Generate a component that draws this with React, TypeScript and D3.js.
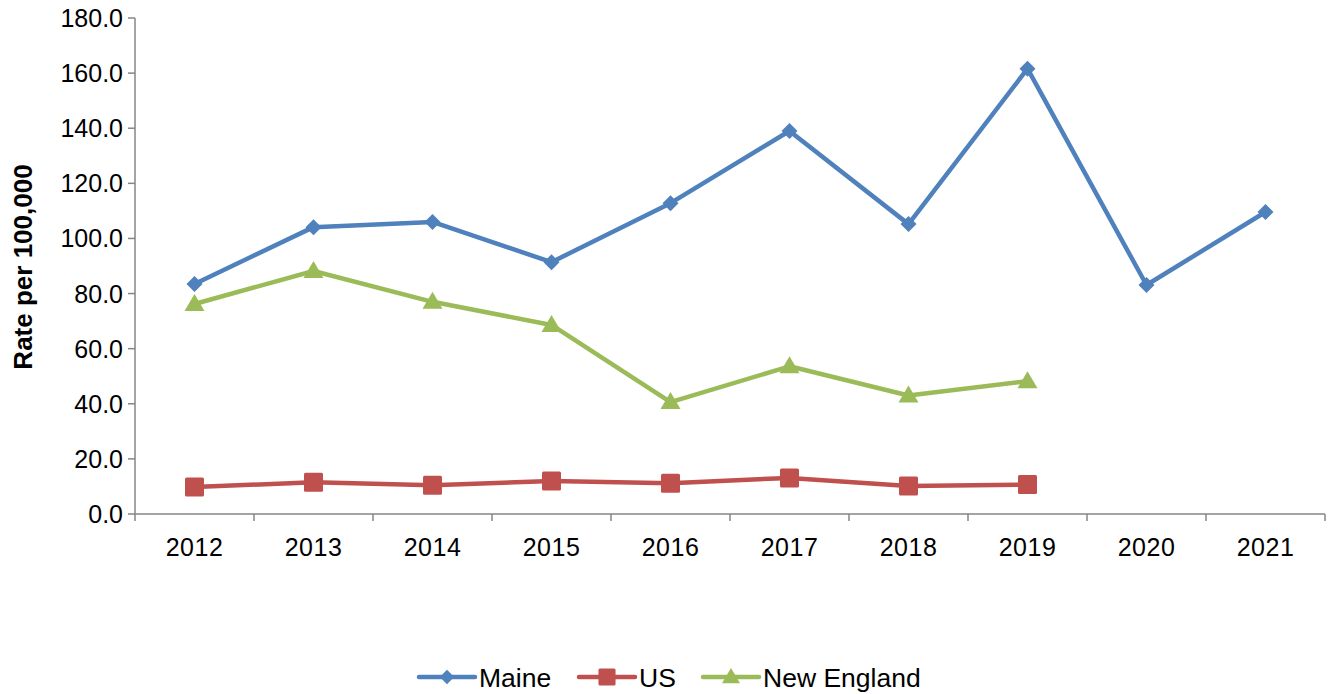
import React from 'react'
import * as d3 from 'd3'

const years = ['2012', '2013', '2014', '2015', '2016', '2017', '2018', '2019', '2020', '2021']
const maine = [83.5, 104.1, 106.0, 91.4, 112.8, 139.0, 105.2, 161.6, 83.1, 109.6]
const us = [9.8, 11.5, 10.4, 12.0, 11.2, 13.1, 10.2, 10.7, null, null]
const newEngland = [76.2, 88.2, 77.0, 68.6, 40.6, 53.6, 43.0, 48.2, null, null]
const yTicks = [0, 20, 40, 60, 80, 100, 120, 140, 160, 180]

const series = [
  { name: 'Maine', values: maine, color: '#4F81BD', marker: 'diamond' },
  { name: 'US', values: us, color: '#C0504D', marker: 'square' },
  { name: 'New England', values: newEngland, color: '#9BBB59', marker: 'triangle' }
]

const font = '"Liberation Sans", Arial, sans-serif'

function Marker({ type, x, y, color, k = 1 }: { type: string; x: number; y: number; color: string; k?: number }) {
  if (type === 'diamond') {
    const s = 8 * k
    return <path d={`M${x},${y - s}L${x + s},${y}L${x},${y + s}L${x - s},${y}Z`} fill={color} />
  }
  if (type === 'square') {
    const s = 9.5 * k
    return <rect x={x - s} y={y - s} width={2 * s} height={2 * s} rx={1.5} fill={color} />
  }
  const s = 10 * k
  return <path d={`M${x},${y - s}L${x + s},${y + 0.7 * s}L${x - s},${y + 0.7 * s}Z`} fill={color} />
}

export default function App() {
  const width = 1333
  const height = 694
  const left = 135
  const right = 1325
  const top = 18
  const bottom = 514

  const x = d3.scaleBand().domain(years).range([left, right])
  const y = d3.scaleLinear().domain([0, 180]).range([bottom, top])

  const line = d3
    .line<number | null>()
    .defined(d => d != null)
    .x((_, i) => (x(years[i]) as number) + x.bandwidth() / 2)
    .y(d => y(d as number))

  const tickX = years.map(yr => x(yr) as number).concat([right])

  // legend positions (line start, text start)
  const legend = [
    { ...series[0], lx: 419, tx: 479 },
    { ...series[1], lx: 579, tx: 639 },
    { ...series[2], lx: 703, tx: 763 }
  ]

  return (
    <svg width={width} height={height} style={{ position: 'absolute', left: 0, top: 0, fontFamily: font }}>
      {/* y axis */}
      <line x1={left} x2={left} y1={top} y2={bottom} stroke="#868686" strokeWidth={1.5} />
      {yTicks.map(t => (
        <g key={t}>
          <line x1={left - 7} x2={left} y1={y(t)} y2={y(t)} stroke="#868686" strokeWidth={1.5} />
          <text x={left - 12} y={y(t)} dy="0.36em" textAnchor="end" fontSize={25} fill="#000">
            {t.toFixed(1)}
          </text>
        </g>
      ))}
      <text
        transform={`translate(23,${(top + bottom) / 2 + 1}) rotate(-90)`}
        textAnchor="middle"
        dy="0.36em"
        fontSize={26}
        fontWeight="bold"
      >
        Rate per 100,000
      </text>

      {/* x axis */}
      <line x1={left} x2={right} y1={bottom} y2={bottom} stroke="#868686" strokeWidth={1.5} />
      {tickX.map((tx, i) => (
        <line key={i} x1={tx} x2={tx} y1={bottom} y2={bottom + 7} stroke="#868686" strokeWidth={1.5} />
      ))}
      {years.map(yr => (
        <text key={yr} x={(x(yr) as number) + x.bandwidth() / 2} y={556} textAnchor="middle" fontSize={25} letterSpacing={0.5}>
          {yr}
        </text>
      ))}

      {/* series */}
      {series.map(s => (
        <g key={s.name}>
          <path d={line(s.values) || ''} fill="none" stroke={s.color} strokeWidth={4.5} strokeLinejoin="round" />
          {s.values.map((v, i) =>
            v == null ? null : (
              <Marker key={i} type={s.marker} x={(x(years[i]) as number) + x.bandwidth() / 2} y={y(v)} color={s.color} />
            )
          )}
        </g>
      ))}

      {/* legend */}
      {legend.map(it => (
        <g key={it.name}>
          <line x1={it.lx} x2={it.lx + 56} y1={677} y2={677} stroke={it.color} strokeWidth={4.5} strokeLinecap="round" />
          <Marker type={it.marker} x={it.lx + 28} y={677} color={it.color} k={0.9} />
          <text x={it.tx} y={677} dy="0.36em" fontSize={26.5}>
            {it.name}
          </text>
        </g>
      ))}
    </svg>
  )
}
